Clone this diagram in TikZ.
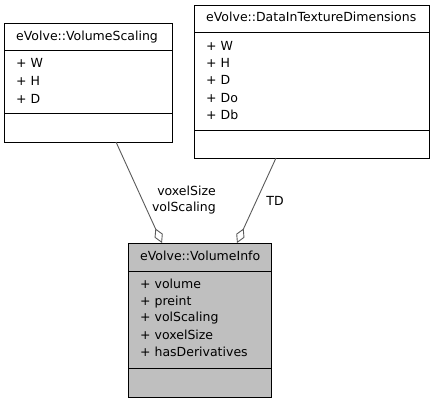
\documentclass[tikz,border=0pt]{standalone}
\usepackage{fontspec}
\setmainfont{DejaVu Sans}
\usetikzlibrary{arrows.meta}
\definecolor{classgray}{RGB}{191,191,191}
\definecolor{linkgray}{RGB}{90,90,90}
\begin{document}
\begin{tikzpicture}[x=1pt,y=-1pt,
  font=\fontsize{12.5}{14}\selectfont,
  classbox/.style={draw=black, line width=1pt, fill=white, inner sep=0pt, anchor=north west},
  txt/.style={anchor=mid west, inner sep=0pt},
  sep/.style={draw=black, line width=1pt},
  assoc/.style={draw=linkgray, line width=0.9pt, -{Diamond[open, length=16pt, width=9pt, line width=0.9pt]}},
  lbl/.style={inner sep=0pt}]
\useasboundingbox (0,0) rectangle (435,403);

% eVolve::VolumeScaling
\node[classbox, minimum width=168pt, minimum height=119pt] (vs) at (4,23) {};
\draw[sep] (4,51) -- (172,51);
\draw[sep] (4,114) -- (172,114);
\node[txt] (vst) at (16,38) {eVolve::VolumeScaling};
\node[txt] (vs1) at (16,65) {+ W};
\node[txt] (vs2) at (16,83) {+ H};
\node[txt] (vs3) at (16,101) {+ D};

% eVolve::DataInTextureDimensions
\node[classbox, minimum width=235pt, minimum height=153pt] (dit) at (194,5) {};
\draw[sep] (194,33) -- (429,33);
\draw[sep] (194,131) -- (429,131);
\node[txt] (ditt) at (206,19) {eVolve::DataInTextureDimensions};
\node[txt] (dit1) at (206,48) {+ W};
\node[txt] (dit2) at (206,65) {+ H};
\node[txt] (dit3) at (206,82) {+ D};
\node[txt] (dit4) at (206,100) {+ Do};
\node[txt] (dit5) at (206,117) {+ Db};

% eVolve::VolumeInfo
\node[classbox, fill=classgray, minimum width=143pt, minimum height=154pt] (vi) at (128,243) {};
\draw[sep] (128,271) -- (271,271);
\draw[sep] (128,368) -- (271,368);
\node[txt] (vit) at (140,258) {eVolve::VolumeInfo};
\node[txt] (vi1) at (140,286) {+ volume};
\node[txt] (vi2) at (140,303) {+ preint};
\node[txt] (vi3) at (140,319) {+ volScaling};
\node[txt] (vi4) at (140,337) {+ voxelSize};
\node[txt] (vi5) at (140,354) {+ hasDerivatives};

% connectors
\coordinate (vsout) at (116,142);
\coordinate (vsin) at (162,243);
\coordinate (ditout) at (276,158);
\coordinate (ditin) at (237,243);
\draw[assoc] (vsout) -- (vsin);
\draw[assoc] (ditout) -- (ditin);
\node[lbl, anchor=east, align=right, font=\fontsize{12.5}{16}\selectfont] (l1) at (216,200) {voxelSize\\volScaling};
\node[lbl] (l2) at (275,201) {TD};
\end{tikzpicture}
\end{document}
